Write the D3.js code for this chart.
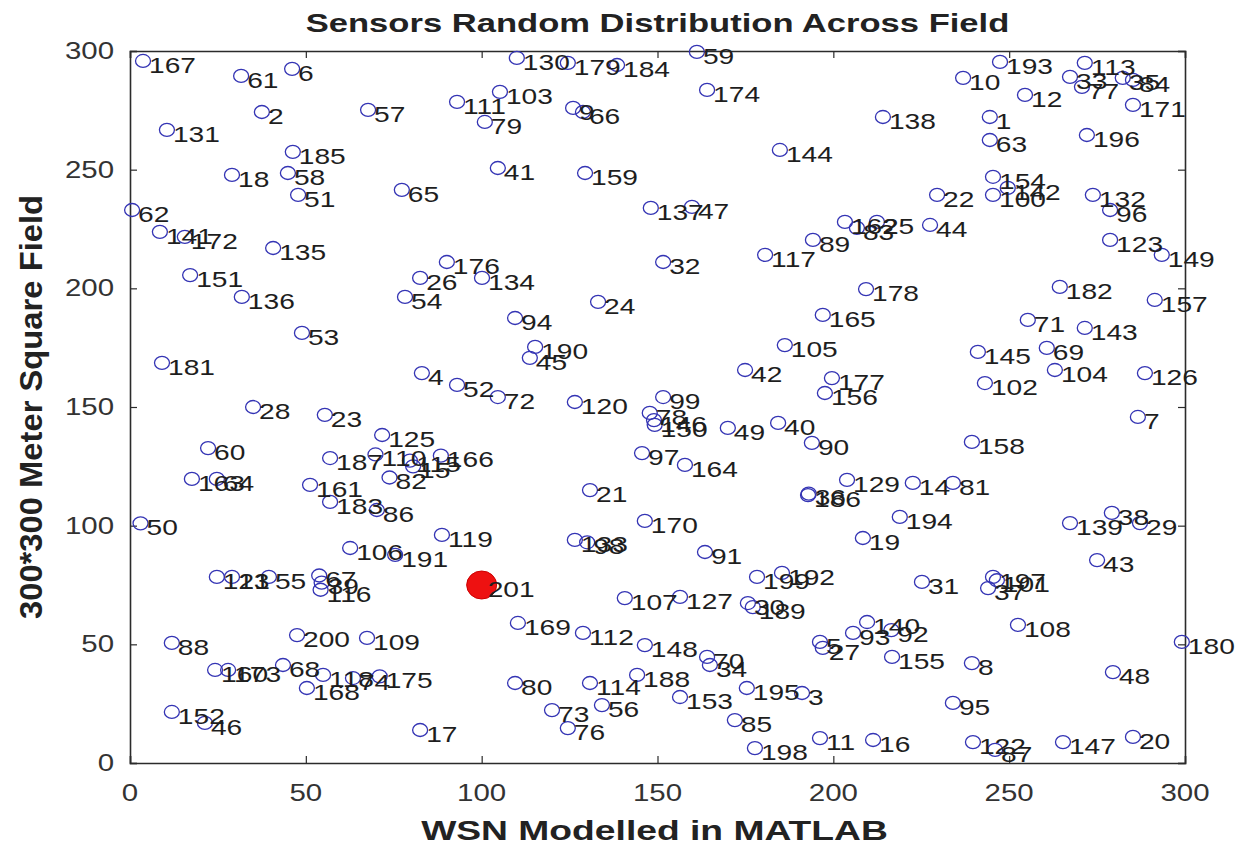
<!DOCTYPE html>
<html>
<head>
<meta charset="utf-8">
<script src="https://cdn.jsdelivr.net/npm/d3@7/dist/d3.min.js"></script>
<style>
  html, body { margin: 0; padding: 0; background: #fff; }
  text { font-family: Arial, "Liberation Sans", Helvetica, sans-serif; }
</style>
</head>
<body>
<svg id="chart" width="1251" height="854"></svg>
<script>
// Sensor node identifiers and their field coordinates (metres)
const sensorIds = [
  167, 61, 6, 2, 57, 131, 185, 18, 58, 51, 62, 141, 172, 135, 151,
  136, 53, 181, 28, 23, 60, 163, 64, 187, 161, 183, 86, 125, 50,
  54, 24, 94, 190, 45, 4, 52, 72, 120, 97, 21,
  110, 82, 115, 166,
  130, 179, 184, 103, 111, 79, 9, 66, 41, 159, 65, 176, 26, 134,
  59, 174, 138, 144, 47, 137, 162, 83, 25, 44, 89, 117, 32, 178,
  193, 10, 12, 1, 63, 154, 100, 142, 22, 113, 33, 77, 35, 84, 171, 196,
  132, 96, 123, 149,
  182, 157, 71, 143, 145, 69, 104, 102, 126, 7, 158, 81, 38, 139,
  165, 105, 42, 177, 156, 99, 78, 146, 150, 49, 40, 90, 164, 186, 36, 129, 14, 194,
  91, 170, 199, 192, 127, 30, 189, 148, 70, 34, 153, 195, 3, 85, 198, 11, 16,
  27, 5, 93, 140, 92, 155, 19, 31,
  29, 43, 197, 37, 108, 180, 8, 48, 95, 122, 87, 147, 20,
  119, 191, 133, 98, 107, 169, 112, 80, 114, 188, 73, 56, 76, 17,
  106, 121, 13, 55, 67, 39, 116, 88, 200, 109, 160, 173, 68, 118, 168, 74, 175, 152, 46,
  15, 101
];
const sensorX = [
  3.7, 31.6, 46.1, 37.5, 67.7, 10.5, 46.3, 29.0, 44.9, 47.8, 0.6, 8.5, 15.6, 40.7, 17.1,
  31.8, 48.9, 9.1, 35.0, 55.4, 22.2, 17.6, 24.7, 56.9, 51.2, 56.9, 70.2, 71.7, 3.0,
  78.2, 133.1, 109.5, 115.2, 113.7, 83.0, 93.0, 104.6, 126.5, 145.6, 130.8,
  69.8, 73.8, 79.6, 88.4,
  110.0, 124.5, 138.5, 105.2, 93.0, 100.9, 126.0, 128.8, 104.6, 129.4, 77.3, 90.1, 82.5, 100.1,
  161.2, 164.1, 214.1, 184.8, 159.8, 148.1, 203.3, 206.7, 212.4, 227.5, 194.2, 180.6, 151.6, 209.3,
  247.4, 236.9, 254.5, 244.5, 244.5, 245.4, 245.4, 249.6, 229.5, 271.5, 267.3, 270.7, 282.3, 285.2, 285.2, 272.1,
  273.8, 278.7, 278.7, 293.4,
  264.4, 291.4, 255.3, 271.5, 241.1, 260.7, 263.0, 243.1, 288.6, 286.6, 239.4, 234.0, 279.2, 267.3,
  197.0, 186.2, 174.9, 199.6, 197.6, 151.6, 147.8, 149.0, 149.2, 170.0, 184.3, 193.9, 157.8, 192.8, 193.0, 203.9, 222.6, 218.9,
  163.5, 146.4, 178.3, 185.4, 156.4, 175.7, 177.1, 146.4, 164.1, 164.9, 156.4, 175.4, 191.1, 172.0, 177.7, 196.2, 211.3,
  197.0, 196.2, 205.6, 209.6, 216.5, 216.7, 208.4, 225.2,
  287.2, 275.0, 245.4, 244.0, 252.5, 299.1, 239.4, 279.5, 234.0, 239.7, 246.0, 265.3, 285.2,
  88.7, 75.4, 126.5, 130.0, 140.7, 110.3, 128.8, 109.5, 130.8, 144.2, 120.0, 134.2, 124.5, 82.5,
  62.6, 24.7, 29.0, 39.5, 53.8, 54.5, 54.2, 11.9, 47.5, 67.4, 24.2, 27.9, 43.5, 54.9, 50.3, 63.4, 71.0, 11.9, 21.3,
  80.5, 246.5
];
const sensorY = [
  295.8, 289.5, 292.5, 274.3, 275.2, 266.8, 257.5, 247.8, 248.6, 239.4, 233.0, 223.8, 221.7, 217.0, 205.6,
  196.4, 181.2, 168.6, 150.0, 146.7, 132.7, 119.7, 119.7, 128.5, 117.2, 110.0, 106.6, 138.2, 101.0,
  196.4, 194.3, 187.5, 175.3, 170.7, 164.3, 159.3, 154.2, 152.1, 130.6, 115.0,
  130.0, 120.3, 127.4, 129.5,
  297.1, 295.0, 294.1, 282.8, 278.6, 270.1, 276.0, 274.3, 250.7, 248.6, 241.5, 211.1, 204.4, 204.4,
  299.6, 283.6, 272.2, 258.3, 234.3, 233.9, 228.0, 225.5, 228.0, 226.7, 220.4, 214.1, 211.1, 199.7,
  295.4, 288.7, 281.5, 272.2, 262.5, 247.0, 239.4, 242.3, 239.4, 295.0, 289.1, 284.9, 288.7, 287.8, 277.3, 264.6,
  239.4, 233.0, 220.4, 214.1,
  200.6, 195.1, 186.7, 183.3, 173.2, 174.9, 165.6, 160.1, 164.3, 145.8, 135.3, 118.0, 105.4, 101.1,
  188.8, 176.1, 165.6, 162.2, 155.9, 154.2, 147.5, 144.5, 142.5, 141.2, 143.3, 134.9, 125.6, 112.9, 113.5, 119.3, 118.0, 103.7,
  88.9, 102.0, 78.4, 80.1, 70.0, 67.4, 65.7, 49.7, 44.7, 41.3, 27.8, 31.6, 29.5, 18.1, 6.3, 10.5, 9.7,
  48.5, 51.0, 54.8, 59.4, 56.0, 44.7, 94.8, 76.3,
  101.1, 85.5, 78.4, 73.7, 58.2, 51.0, 42.1, 38.3, 25.3, 8.8, 5.5, 8.8, 11.0,
  96.1, 87.7, 94.0, 93.0, 69.5, 59.0, 54.8, 33.7, 33.7, 37.1, 22.3, 24.4, 14.7, 13.9,
  90.6, 78.4, 78.4, 78.4, 79.0, 76.0, 73.0, 50.6, 53.9, 52.7, 39.2, 39.2, 41.3, 37.1, 31.6, 35.8, 36.5, 21.5, 16.9,
  125.0, 77.0
];

// Base station (sink)
const sinkIds = [201];
const sinkX = [100];
const sinkY = [75];

const xTicks = [0, 50, 100, 150, 200, 250, 300];
const yTicks = [0, 50, 100, 150, 200, 250, 300];

const titleText = "Sensors Random Distribution Across Field";
const xLabelText = "WSN Modelled in MATLAB";
const yLabelText = "300*300 Meter Square Field";

// ---- layout ----
const plot = { left: 130, right: 1185, top: 51, bottom: 763 };
const stretch = 1.28;           // horizontal glyph stretch of the figure fonts
const axisColor = "#2b2b2b";
const markerColor = "#3434b4";

const svg = d3.select("#chart");

const x = d3.scaleLinear().domain([0, 300]).range([plot.left, plot.right]);
const y = d3.scaleLinear().domain([0, 300]).range([plot.bottom, plot.top]);

// helper: text that is horizontally stretched about its anchor point
function stretchedText(g, tx, ty, str, opts) {
  return g.append("text")
    .attr("transform", `translate(${tx},${ty}) scale(${opts.sx || stretch},1)`)
    .attr("x", 0).attr("y", 0)
    .attr("text-anchor", opts.anchor || "start")
    .attr("dominant-baseline", opts.baseline || "central")
    .attr("font-size", opts.size)
    .attr("font-weight", opts.weight || "normal")
    .attr("fill", opts.fill || "#222")
    .text(str);
}

// ---- axes box & ticks (inward ticks on all four sides) ----
const axesG = svg.append("g");

const bottomAxis = d3.axisBottom(x).tickValues(xTicks).tickSize(-7).tickFormat("");
const topAxis = d3.axisTop(x).tickValues(xTicks).tickSize(-7).tickFormat("");
const leftAxis = d3.axisLeft(y).tickValues(yTicks).tickSize(-7).tickFormat("");
const rightAxis = d3.axisRight(y).tickValues(yTicks).tickSize(-7).tickFormat("");

axesG.append("g").attr("transform", `translate(0,${plot.bottom})`).call(bottomAxis);
axesG.append("g").attr("transform", `translate(0,${plot.top})`).call(topAxis);
axesG.append("g").attr("transform", `translate(${plot.left},0)`).call(leftAxis);
axesG.append("g").attr("transform", `translate(${plot.right},0)`).call(rightAxis);
axesG.selectAll(".domain").attr("stroke", axisColor).attr("stroke-width", 1.6);
axesG.selectAll(".tick line").attr("stroke", axisColor).attr("stroke-width", 1.2);

// tick labels
const tickG = svg.append("g");
xTicks.forEach(v => stretchedText(tickG, x(v), plot.bottom + 30, String(v),
  { size: 23, anchor: "middle", fill: "#333" }));
yTicks.forEach(v => stretchedText(tickG, plot.left - 16, y(v), String(v),
  { size: 23, anchor: "end", fill: "#333" }));

// ---- sensor nodes ----
const sensors = sensorIds.map((id, i) => ({ id, x: sensorX[i], y: sensorY[i] }));
const sinks = sinkIds.map((id, i) => ({ id, x: sinkX[i], y: sinkY[i] }));

const nodeG = svg.append("g");
nodeG.selectAll("ellipse.sensor")
  .data(sensors)
  .join("ellipse")
  .attr("class", "sensor")
  .attr("cx", d => x(d.x))
  .attr("cy", d => y(d.y))
  .attr("rx", 7.5)
  .attr("ry", 6.5)
  .attr("fill", "none")
  .attr("stroke", markerColor)
  .attr("stroke-width", 1.3);

nodeG.selectAll("ellipse.sink")
  .data(sinks)
  .join("ellipse")
  .attr("class", "sink")
  .attr("cx", d => x(d.x))
  .attr("cy", d => y(d.y))
  .attr("rx", 15)
  .attr("ry", 14)
  .attr("fill", "#ee1111")
  .attr("stroke", "#cc0000")
  .attr("stroke-width", 1);

// node labels
const labelG = svg.append("g");
sensors.concat(sinks).forEach(d => {
  stretchedText(labelG, x(d.x) + 6, y(d.y) + 4, String(d.id),
    { size: 22, fill: "#1e1e1e" });
});

// ---- titles ----
stretchedText(svg, (plot.left + plot.right) / 2, 23, titleText,
  { size: 26, weight: "bold", anchor: "middle", fill: "#222", sx: 1.33 });
stretchedText(svg, (plot.left + plot.right) / 2 - 3, 830, xLabelText,
  { size: 28, weight: "bold", anchor: "middle", fill: "#222", sx: 1.33 });

svg.append("text")
  .attr("transform", `translate(31,${(plot.top + plot.bottom) / 2}) rotate(-90) scale(1.17,1.1)`)
  .attr("text-anchor", "middle")
  .attr("dominant-baseline", "central")
  .attr("font-size", 28)
  .attr("font-weight", "bold")
  .attr("fill", "#222")
  .text(yLabelText);
</script>
</body>
</html>
